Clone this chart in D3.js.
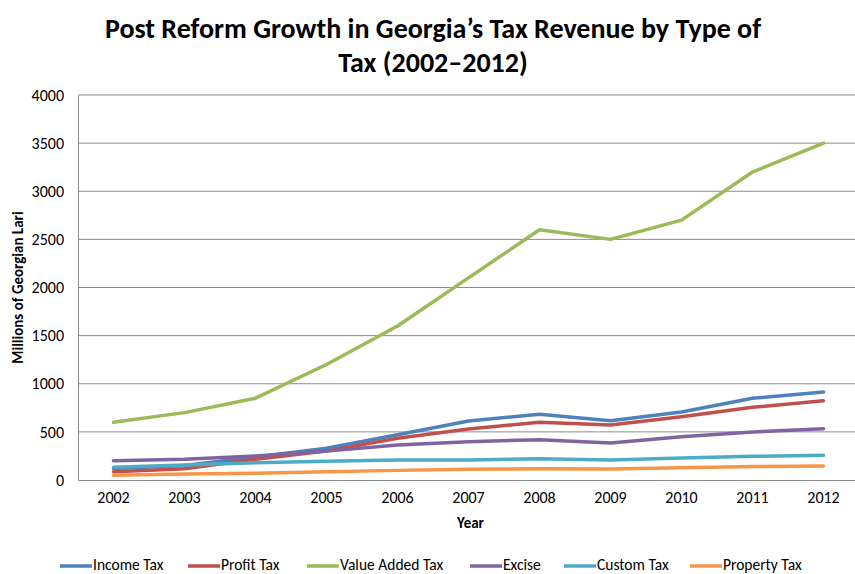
<!DOCTYPE html>
<html>
<head>
<meta charset="utf-8">
<script src="https://cdn.jsdelivr.net/npm/d3@7"></script>
<style>
  html, body { margin: 0; padding: 0; background: #fff; }
  svg text { font-family: Carlito, "Liberation Sans Narrow", "Open Sans", sans-serif; fill: #000; }
</style>
</head>
<body>
<div id="vis"></div>
<script>
var years = ["2002","2003","2004","2005","2006","2007","2008","2009","2010","2011","2012"]
var yTicks = [0, 500, 1000, 1500, 2000, 2500, 3000, 3500, 4000]

var incomeTax   = [120, 150, 240, 330, 470, 613, 682, 616, 706, 849, 914]
var profitTax   = [86, 118, 215, 300, 433, 530, 599, 571, 658, 755, 824]
var vatTax      = [600, 700, 850, 1200, 1600, 2100, 2600, 2500, 2700, 3200, 3500]
var exciseTax   = [200, 215, 250, 300, 363, 398, 419, 384, 450, 499, 533]
var customTax   = [132, 156, 180, 195, 208, 208, 222, 208, 228, 246, 256]
var propertyTax = [49, 62, 70, 86, 100, 111, 118, 114, 128, 139, 145]

var series = [
    { name: "Income Tax", values: incomeTax, color: "#4F81BD" },
    { name: "Profit Tax", values: profitTax, color: "#C0504D" },
    { name: "Value Added Tax", values: vatTax, color: "#9BBB59" },
    { name: "Excise", values: exciseTax, color: "#8064A2" },
    { name: "Custom Tax", values: customTax, color: "#4BACC6" },
    { name: "Property Tax", values: propertyTax, color: "#F79646" }
]

var W = 855, H = 574
var plotLeft = 78, plotTop = 95, plotBottom = 480, plotRight = 859

var svg = d3.select("#vis").append("svg")
    .attr("width", W)
    .attr("height", H)

// title
var title = svg.append("text")
    .attr("text-anchor", "middle")
    .attr("font-size", "28px")
    .attr("font-weight", "bold")
title.append("tspan").attr("x", 433).attr("y", 38).text("Post Reform Growth in Georgia\u2019s Tax Revenue by Type of")
title.append("tspan").attr("x", 433).attr("y", 72).text("Tax (2002\u20132012)")

var x = d3.scaleBand().domain(years).range([plotLeft, plotRight])
var y = d3.scaleLinear().domain([0, 4000]).range([plotBottom, plotTop])

// gridlines
svg.append("g")
    .selectAll("line")
    .data(yTicks.filter(function (d) { return d > 0 }))
    .enter().append("line")
    .attr("x1", plotLeft).attr("x2", W)
    .attr("y1", function (d) { return y(d) }).attr("y2", function (d) { return y(d) })
    .attr("stroke", "#8c8c8c").attr("stroke-width", 1)

// y axis
var yAxis = svg.append("g")
    .attr("transform", "translate(" + plotLeft + ",0)")
    .call(d3.axisLeft(y).tickValues(yTicks).tickFormat(d3.format("d")).tickSize(0).tickPadding(14))
yAxis.select("path.domain").attr("stroke", "#8c8c8c")
yAxis.selectAll("text").attr("font-size", "16px").style("font-family", null)

// x axis
var xAxis = svg.append("g")
    .attr("transform", "translate(0," + plotBottom + ")")
    .call(d3.axisBottom(x).tickSize(0).tickPadding(12).tickSizeOuter(0))
xAxis.select("path.domain").attr("stroke", "#8c8c8c")
xAxis.selectAll("text").attr("font-size", "16px").style("font-family", null)

// axis titles
svg.append("text")
    .attr("transform", "translate(23," + ((plotTop + plotBottom) / 2) + ") rotate(-90)")
    .attr("text-anchor", "middle")
    .attr("font-size", "15px")
    .attr("font-weight", "bold")
    .text("Millions of Georgian Lari")

svg.append("text")
    .attr("x", (plotLeft + 855) / 2 + 4)
    .attr("y", 528)
    .attr("text-anchor", "middle")
    .attr("font-size", "15px")
    .attr("font-weight", "bold")
    .text("Year")

// lines
var line = d3.line()
    .x(function (d, i) { return x(years[i]) + x.bandwidth() / 2 })
    .y(function (d) { return y(d) })

svg.append("g")
    .selectAll("path")
    .data(series)
    .enter().append("path")
    .attr("d", function (s) { return line(s.values) })
    .attr("fill", "none")
    .attr("stroke", function (s) { return s.color })
    .attr("stroke-width", 3.5)
    .attr("stroke-linejoin", "round")
    .attr("stroke-linecap", "round")

// legend
var legendX = [60, 188, 307, 470, 564, 690]
var legend = svg.append("g")
    .selectAll("g")
    .data(series)
    .enter().append("g")
    .attr("transform", function (s, i) { return "translate(" + legendX[i] + ",566)" })
legend.append("line")
    .attr("x1", 0).attr("x2", 32)
    .attr("stroke", function (s) { return s.color })
    .attr("stroke-width", 3.5)
legend.append("text")
    .attr("x", 33)
    .attr("y", 4)
    .attr("font-size", "15.5px")
    .text(function (s) { return s.name })
</script>
</body>
</html>
